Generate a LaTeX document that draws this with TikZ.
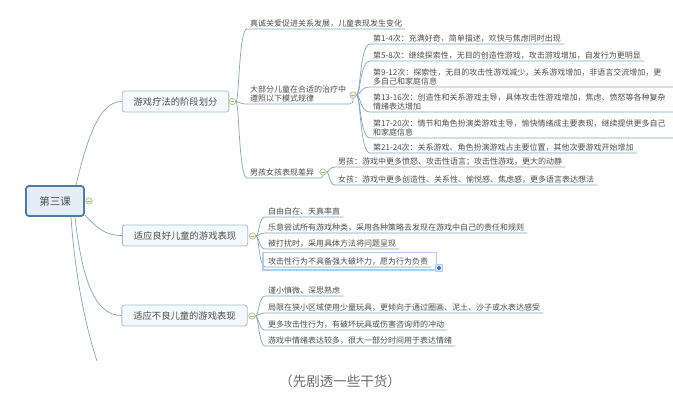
\documentclass[tikz,border=0pt]{standalone}
\usepackage{fontspec}
\setmainfont{Noto Sans CJK SC}
\usetikzlibrary{positioning}
\definecolor{txt}{HTML}{4D4D4D}
\definecolor{linecol}{HTML}{86A3B5}
\definecolor{boxline}{HTML}{A7BDCC}
\definecolor{boxfill}{HTML}{F6F9FB}
\definecolor{rootline}{HTML}{4B7DAA}
\definecolor{rootfill}{HTML}{E5EEF7}
\definecolor{knobline}{HTML}{A2BE7C}
\definecolor{knobfill}{HTML}{EFF5DF}
\definecolor{selline}{HTML}{B3CBEF}
\definecolor{plusfill}{HTML}{DCE6F8}
\definecolor{pluscol}{HTML}{3F6FD1}
\definecolor{capcol}{HTML}{6B6B6B}
\tikzset{
  root/.style={
    draw = rootline,
    line width = 1.8pt,
    fill = rootfill,
    rounded corners = 3pt,
    minimum width = 58pt,
    minimum height = 30pt,
    text = txt,
    font = \fontsize{10.5}{12}\selectfont
  },
  topic/.style={
    draw = boxline,
    line width = 0.8pt,
    fill = boxfill,
    rounded corners = 2.5pt,
    inner xsep = 11.5pt,
    minimum height = 21pt,
    text = txt,
    font = \fontsize{9.3}{11}\selectfont
  },
  leaf/.style={
    anchor = south west,
    inner xsep = 3pt,
    inner ysep = 1.6pt,
    text depth = 0.4pt,
    align = left,
    text = txt,
    font = \fontsize{8}{9.5}\selectfont
  },
  single/.style={},
  wide/.style={
    text width = 297pt,
    text depth = {}
  },
  knob/.style={
    shape = circle,
    inner sep = 0pt,
    minimum size = 6.5pt,
    draw = knobline,
    line width = 0.6pt,
    fill = knobfill,
    path picture = {\draw[knobline, line width=0.6pt]
      ([xshift=1.4pt]path picture bounding box.west) --
      ([xshift=-1.4pt]path picture bounding box.east);}
  },
}
\tikzset{
  branch/.style={
    draw = linecol,
    line width = 0.7pt
  },
  selbox/.style={
    draw = selline,
    line width = 1.1pt
  },
  expand/.style={
    shape = rectangle,
    inner sep = 0pt,
    minimum size = 7pt,
    fill = plusfill,
    draw = selline,
    path picture = {\draw[pluscol, line width=1.2pt]
      ([xshift=1.2pt]path picture bounding box.west) --
      ([xshift=-1.2pt]path picture bounding box.east)
      ([yshift=-1.2pt]path picture bounding box.north) --
      ([yshift=1.2pt]path picture bounding box.south);}
  },
  caption/.style={
    text = capcol,
    font = \fontsize{13.5}{15}\selectfont
  }
}

\begin{document}
\begin{tikzpicture}[x=1pt,y=-1pt]
\useasboundingbox (0,0) rectangle (673,409);
\node[root] (root) at (55,201) {第三课};
\node[knob] (k0) at (89,201) {};
\node[topic] (t1) at (175.5,101.5) {游戏疗法的阶段划分};
\node[topic] (t2) at (185,235.5) {适应良好儿童的游戏表现};
\node[topic] (t3) at (184.5,315.5) {适应不良儿童的游戏表现};
\node[knob] (k1) at (232.5,101.5) {};
\node[knob] (k2) at (252.5,236) {};
\node[knob] (k3) at (252,316) {};
\coordinate (cut) at (97,361);
\draw[branch] ([xshift=21pt]root.north) .. controls (88,135) and (100,101.5) .. (t1.west);
\draw[branch] ([yshift=2pt]root.south east) .. controls (97,228) and (105,235.5) .. (t2.west);
\draw[branch] ([xshift=20pt]root.south) .. controls (82,280) and (95,315.5) .. (t3.west);
\draw[branch] ([xshift=16pt]root.south) .. controls (76,290) and (90,340) .. (cut);
% stages
		  \foreach \n/\y/\t in {1/29/{真诚关爱促进关系发展，儿童表现发生变化},
		    2/104/{大部分儿童在合适的治疗中\\遵照以下模式规律},3/178/{男孩女孩表现差异}}{
		    \node[leaf] (a\n) at (247,\y) {\t};
		    \draw[branch] (k1.east) .. controls +(3,0) and +(-8,0) .. (a\n.south west) -- (a\n.south east); }
\node[knob] (ka2) at (353,95) {};
\node[knob] (ka3) at (323,172) {};
\draw[branch] (a2.south east) .. controls +(3,0) and +(0,4) .. (ka2.south);
\draw[branch] (a3.south east) .. controls +(3,0) and +(0,3) .. (ka3.south);
		  \foreach \n/\y/\s/\t in {1/44/single/{第1-4次：充满好奇，简单描述，欢快与焦虑同时出现},
		    2/61/single/{第5-8次：继续探索性，无目的创造性游戏，攻击游戏增加，自发行为更明显},
		    3/87/wide/{第9-12次：探索性，无目的攻击性游戏减少，关系游戏增加，非语言交流增加，更\\多自己和家庭信息},
		    4/112/wide/{第13-16次：创造性和关系游戏主导，具体攻击性游戏增加，焦虑、愤怒等各种复杂\\情绪表达增加},
		    5/138/wide/{第17-20次：情节和角色扮演类游戏主导，愉快情绪成主要表现，继续提供更多自己\\和家庭信息},
		    6/153/single/{第21-24次：关系游戏、角色扮演游戏占主要位置，其他次要游戏开始增加}}{
		    \node[leaf,\s] (b\n) at (370,\y) {\t};
		    \draw[branch] (ka2.east) .. controls +(4,0) and +(-10,0) .. (b\n.south west) -- (b\n.south east); }
		  \foreach \n/\y/\t in {1/167/{男孩：游戏中更多愤怒、攻击性语言；攻击性游戏，更大的动静},
		    2/185/{女孩：游戏中更多创造性、关系性、愉悦感、焦虑感，更多语言表达想法}}{
		    \node[leaf] (c\n) at (335,\y) {\t};
		    \draw[branch] (ka3.east) .. controls +(3,0) and +(-6,0) .. (c\n.south west) -- (c\n.south east); }
% good adaptation
		  \foreach \n/\y/\t in {1/217/{自由自在、天真率直},
		    2/233/{乐意尝试所有游戏种类，采用各种策略去发现在游戏中自己的责任和规则},
		    3/249/{被打扰时，采用具体方法将问题呈现},
		    4/267/{攻击性行为不具备强大破坏力，愿为行为负责}}{
		    \node[leaf] (d\n) at (265,\y) {\t};
		    \draw[branch] (k2.east) .. controls +(3,0) and +(-6,0) .. (d\n.south west) -- (d\n.south east); }
\draw[selbox] ([xshift=-2pt,yshift=-3pt]d4.south west) rectangle ([xshift=5pt,yshift=4pt]d4.north east);
\node[expand] (plus) at (439,268) {};
% poor adaptation
		  \foreach \n/\y/\t in {1/296/{谨小慎微、深思熟虑},
		    2/313/{局限在狭小区域使用少量玩具，更倾向于通过圈画、泥土、沙子或水表达感受},
		    3/330/{更多攻击性行为，有破坏玩具或伤害咨询师的冲动},
		    4/346/{游戏中情绪表达较多，很大一部分时间用于表达情绪}}{
		    \node[leaf] (e\n) at (265,\y) {\t};
		    \draw[branch] (k3.east) .. controls +(3,0) and +(-6,0) .. (e\n.south west) -- (e\n.south east); }
\node[caption] (cap) at (340,381) {（先剧透一些干货）};
\end{tikzpicture}
\end{document}
